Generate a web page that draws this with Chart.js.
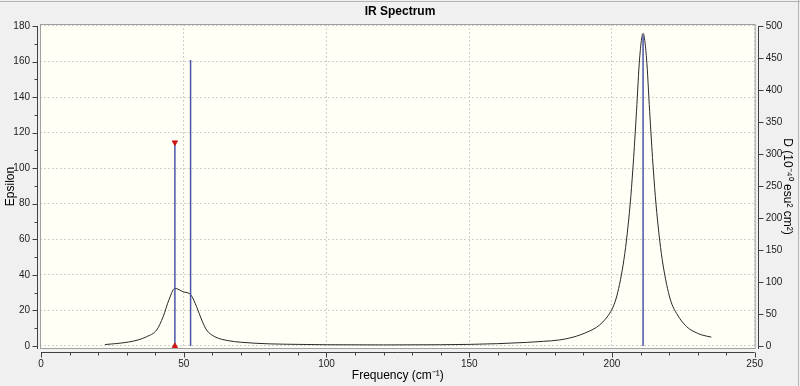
<!DOCTYPE html>
<html>
<head>
<meta charset="utf-8">
<title>IR Spectrum</title>
<script src="https://cdn.jsdelivr.net/npm/chart.js@4/dist/chart.umd.min.js"></script>
<style>
html,body{margin:0;padding:0;background:#f0f0f0;}
#wrap{width:800px;height:386px;}
</style>
</head>
<body>
<div id="wrap"><canvas id="irChart" width="800" height="386"></canvas></div>
<script>
// broadened spectrum (frequency in cm-1, epsilon)
const freq = [22.4, 26, 30.6, 34, 37, 40.5, 42.8, 44.8, 46.9, 49.8, 52.5, 54.5, 56.3, 58, 60.9, 65.6, 70, 80, 90, 100, 120, 140, 150, 160, 170, 176, 181.7, 186, 189, 192, 194.6, 196.8, 199.2, 200.8, 202, 203.3, 204.5, 205.6, 206.6, 207.6, 208.6, 209.7, 210.9, 212.1, 213.2, 214.2, 215.2, 216.2, 217.3, 218.5, 219.8, 221, 222.6, 225, 227.2, 229.5, 231.3, 234.8];
const epsilon = [0.8, 1.3, 2.2, 3.4, 5.2, 9, 16.5, 25.9, 32.4, 30.5, 28.7, 22.1, 14.6, 9, 5.2, 3, 2.1, 1.2, 0.9, 0.7, 0.6, 0.7, 0.9, 1.3, 2.0, 2.6, 3.4, 4.8, 6.3, 8.3, 10.5, 13.5, 18.4, 23.5, 30, 40, 52, 67, 84, 106, 132, 162, 175.8, 162, 132, 106, 84, 67, 52, 40, 30, 23.5, 18.4, 12.8, 9.5, 7.5, 6.3, 5.0];

// stick spectrum (frequency, D in 10^-40 esu^2 cm^2)
const stickFreq = [46.9, 52.4, 210.9];
const stickD = [318, 447, 485];
const selectedStick = 0;

// tick labels
const freqTicks = [0, 50, 100, 150, 200, 250];
const epsTicks = [0, 20, 40, 60, 80, 100, 120, 140, 160, 180];
const dTicks = [0, 50, 100, 150, 200, 250, 300, 350, 400, 450, 500];

const curveData = freq.map((f, i) => ({x: f, y: epsilon[i]}));
const stickData = [];
stickFreq.forEach((f, i) => {
  stickData.push({x: f, y: 0}, {x: f, y: stickD[i]}, {x: f, y: null});
});
const markData = [
  {x: stickFreq[selectedStick], y: stickD[selectedStick]},
  {x: stickFreq[selectedStick], y: 0}
];

const labelFont = {family: "'Liberation Sans', Arial, sans-serif", size: 10};
const titleFont = {family: "'Liberation Sans', Arial, sans-serif", size: 12};

function setTicks(list) {
  return function(scale) {
    scale.ticks = list.map(v => ({value: v}));
  };
}

const frame = {
  id: 'frame',
  beforeDraw(chart) {
    const ctx = chart.ctx;
    const a = chart.chartArea;
    ctx.save();
    ctx.fillStyle = '#f0f0f0';
    ctx.fillRect(0, 0, chart.width, chart.height);
    ctx.fillStyle = '#fffff5';
    ctx.fillRect(a.left, a.top, a.right - a.left, a.bottom - a.top);
    ctx.restore();
  },
  afterDraw(chart) {
    const ctx = chart.ctx;
    const a = chart.chartArea;
    const sx = chart.scales.x, sy = chart.scales.y, sy2 = chart.scales.y2;
    ctx.save();
    ctx.lineWidth = 1;
    ctx.strokeStyle = '#a0a0a0';
    ctx.strokeRect(a.left + 0.5, a.top + 0.5, a.right - a.left - 1, a.bottom - a.top - 1);
    ctx.strokeStyle = '#b4b4b4';
    ctx.beginPath();
    ctx.moveTo(0, 1.5); ctx.lineTo(chart.width, 1.5);
    ctx.moveTo(chart.width - 1.5, 0); ctx.lineTo(chart.width - 1.5, chart.height);
    ctx.stroke();

    ctx.strokeStyle = '#404040';
    ctx.beginPath();
    // left axis
    const lx = Math.round(a.left - 3) + 0.5;
    ctx.moveTo(lx, sy.getPixelForValue(180)); ctx.lineTo(lx, a.bottom);
    for (let v = 0; v <= 180; v += 10) {
      const py = Math.round(sy.getPixelForValue(v)) + 0.5;
      ctx.moveTo(lx, py); ctx.lineTo(lx - (v % 20 === 0 ? 5 : 3), py);
    }
    // right axis
    const rx = Math.round(a.right + 2) + 0.5;
    ctx.moveTo(rx, sy2.getPixelForValue(500)); ctx.lineTo(rx, a.bottom);
    dTicks.forEach(v => {
      const py = Math.round(sy2.getPixelForValue(v)) + 0.5;
      ctx.moveTo(rx, py); ctx.lineTo(rx + 5, py);
    });
    // bottom axis
    const by = Math.round(a.bottom + 3) + 0.5;
    ctx.moveTo(sx.getPixelForValue(0), by); ctx.lineTo(sx.getPixelForValue(250), by);
    for (let v = 0; v <= 250; v += 10) {
      const px = Math.round(sx.getPixelForValue(v)) + 0.5;
      ctx.moveTo(px, by); ctx.lineTo(px, by + (v % 50 === 0 ? 5 : 3));
    }
    ctx.stroke();
    ctx.restore();
  }
};

new Chart(document.getElementById('irChart'), {
  type: 'line',
  data: {
    datasets: [
      {
        label: 'selected',
        data: markData,
        yAxisID: 'y2',
        showLine: false,
        pointStyle: 'triangle',
        pointRotation: [180, 0],
        pointRadius: 3,
        backgroundColor: '#d01414',
        borderColor: '#d01414',
        borderWidth: 1
      },
      {
        label: 'sticks',
        data: stickData,
        yAxisID: 'y2',
        borderColor: '#4a55a8',
        borderWidth: 1.5,
        pointRadius: 0,
        spanGaps: false
      },
      {
        label: 'spectrum',
        data: curveData,
        yAxisID: 'y',
        borderColor: '#2a2a2a',
        borderWidth: 1,
        pointRadius: 0,
        cubicInterpolationMode: 'monotone'
      }
    ]
  },
  options: {
    responsive: false,
    animation: false,
    layout: {padding: 0},
    plugins: {
      legend: {display: false},
      tooltip: {enabled: false},
      title: {
        display: true,
        text: 'IR Spectrum',
        color: '#000',
        font: {family: titleFont.family, size: 12, weight: 'bold'},
        padding: {top: 4, bottom: 5.6}
      }
    },
    scales: {
      x: {
        type: 'linear',
        min: -0.35,
        max: 250.35,
        afterBuildTicks: setTicks(freqTicks),
        afterFit(s) { s.height = 37; },
        grid: {color: '#cfcfcf', drawTicks: false},
        border: {display: false, dash: [2, 2]},
        ticks: {color: '#222', font: labelFont, padding: 9, maxRotation: 0},
        title: {display: true, text: 'Frequency (cm\u207B\u00B9)', color: '#000', font: titleFont, padding: {top: 0, bottom: 3}}
      },
      y: {
        position: 'left',
        min: -1.7,
        max: 181.1,
        afterBuildTicks: setTicks(epsTicks),
        afterFit(s) { s.width = 40; },
        grid: {color: '#cfcfcf', drawTicks: false},
        border: {display: false, dash: [2, 2]},
        ticks: {color: '#222', font: labelFont, padding: 10},
        title: {display: true, text: 'Epsilon', color: '#000', font: titleFont, padding: {top: 3, bottom: 0}}
      },
      y2: {
        position: 'right',
        min: -4.72,
        max: 503.06,
        afterBuildTicks: setTicks(dTicks),
        afterFit(s) { s.width = 44.3; },
        grid: {drawOnChartArea: false, drawTicks: false},
        border: {display: false},
        ticks: {color: '#222', font: labelFont, padding: 10},
        title: {display: true, text: 'D (10\u207B\u2074\u2070 esu\u00B2 cm\u00B2)', color: '#000', font: titleFont, padding: {top: 5, bottom: 0}}
      }
    }
  },
  plugins: [frame]
});
</script>
</body>
</html>
